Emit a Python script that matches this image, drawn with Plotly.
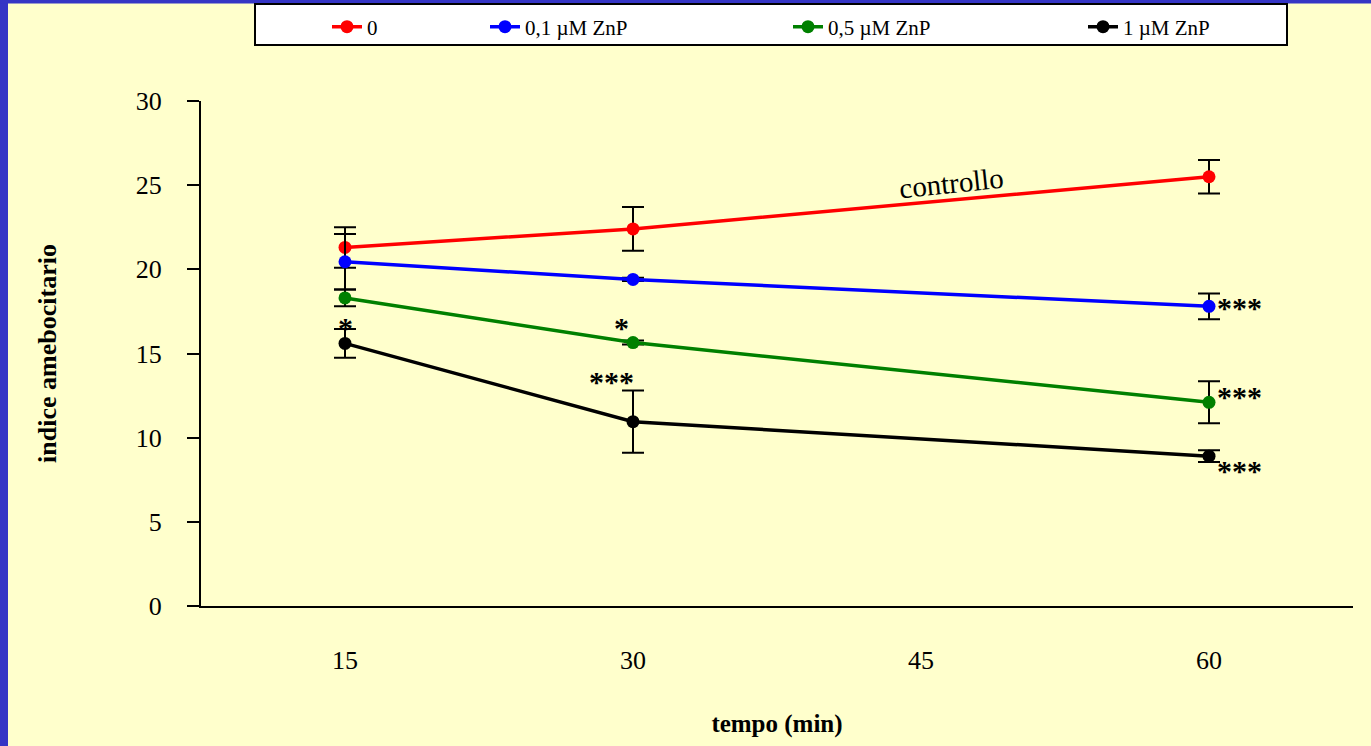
import plotly.graph_objects as go

# ---- data ----
times = [15, 30, 60]
series_names = ["0", "0,1 µM ZnP", "0,5 µM ZnP", "1 µM ZnP"]
series_colors = ["#FF0000", "#0000FF", "#008000", "#000000"]
vals_ctrl = [21.3, 22.4, 25.5]
err_ctrl = [1.2, 1.3, 1.0]
vals_01 = [20.45, 19.4, 17.8]
err_01 = [1.65, 0.1, 0.77]
vals_05 = [18.3, 15.65, 12.1]
err_05 = [0.5, 0.12, 1.25]
vals_1 = [15.6, 10.95, 8.9]
err_1 = [0.85, 1.85, 0.35]
values = [vals_ctrl, vals_01, vals_05, vals_1]
errors = [err_ctrl, err_01, err_05, err_1]

x_ticks = [15, 30, 45, 60]
y_ticks = [0, 5, 10, 15, 20, 25, 30]

# significance marks: (x, y, text)
sig_x = [15, 29.4, 28.9, 61.6, 61.6, 61.6]
sig_y = [16.55, 16.55, 13.35, 17.75, 12.45, 8.05]
sig_text = ["*", "*", "***", "***", "***", "***"]

# ---- layout helpers (pixel -> paper) ----
L, R, T, B = 201, 18, 101, 140
W, H = 1371, 746
pw, ph = W - L - R, H - T - B


def px(xp):
    return (xp - L) / pw


def py(yp):
    return (H - B - yp) / ph


SERIF = "Liberation Serif, Times New Roman, serif"

fig = go.Figure()
legend_ids = ["legend", "legend2", "legend3", "legend4"]
for name, col, v, e, lg in zip(series_names, series_colors, values, errors, legend_ids):
    fig.add_trace(go.Scatter(
        x=times, y=v, name=name, mode="lines+markers",
        line=dict(color=col, width=3.5),
        marker=dict(color=col, size=13),
        error_y=dict(type="data", array=e, visible=True, color="black",
                     thickness=2, width=11),
        legend=lg,
    ))

for sx, sy, st in zip(sig_x, sig_y, sig_text):
    fig.add_annotation(x=sx, y=sy, text="<b>" + st + "</b>", showarrow=False,
                       font=dict(family=SERIF, size=30, color="black"),
                       xanchor="center", yanchor="middle")

fig.add_annotation(x=46.6, y=25.15, text="controllo", showarrow=False,
                   textangle=-6,
                   font=dict(family=SERIF, size=29, color="black"))

# background border strips and legend box
shapes = [
    dict(type="rect", xref="paper", yref="paper", x0=-0.3, x1=px(8),
         y0=-0.4, y1=1.3, fillcolor="#3535C5", line=dict(width=0), layer="below"),
    dict(type="rect", xref="paper", yref="paper", x0=-0.3, x1=1.1,
         y0=py(3.5), y1=1.3, fillcolor="#3535C5", line=dict(width=0), layer="below"),
    dict(type="rect", xref="paper", yref="paper", x0=px(255), x1=px(1287),
         y0=py(45), y1=py(4), fillcolor="white",
         line=dict(color="black", width=2), layer="below"),
]

legend_x_px = [327, 485, 788, 1083]
legend_kw = {}
for lg, lx in zip(legend_ids, legend_x_px):
    legend_kw[lg] = dict(x=px(lx), y=py(27), xanchor="left", yanchor="middle",
                         orientation="h", bgcolor="rgba(0,0,0,0)", borderwidth=0,
                         font=dict(family=SERIF, size=21, color="black"))

fig.update_layout(
    width=W, height=H,
    margin=dict(l=L, r=R, t=T, b=B, autoexpand=False),
    paper_bgcolor="#FFFFCC", plot_bgcolor="#FFFFCC",
    shapes=shapes,
    showlegend=True,
    **legend_kw,
    xaxis=dict(
        range=[7.5, 67.5], tickmode="array", tickvals=x_ticks,
        ticktext=[str(t) for t in x_ticks],
        showgrid=False, zeroline=False, showline=True,
        linecolor="black", linewidth=2, ticks="",
        ticklabelstandoff=30, automargin=False,
        tickfont=dict(family=SERIF, size=26, color="black"),
        title=dict(text="<b>tempo (min)</b>", standoff=40,
                   font=dict(family=SERIF, size=25, color="black")),
    ),
    yaxis=dict(
        range=[0, 30], tickmode="array", tickvals=y_ticks,
        ticktext=[str(t) for t in y_ticks],
        showgrid=False, zeroline=False, showline=True,
        linecolor="black", linewidth=2, ticks="outside", ticklen=12,
        tickwidth=2, tickcolor="black", ticklabelstandoff=20, automargin=False,
        tickfont=dict(family=SERIF, size=26, color="black"),
        title=dict(text="<b>indice amebocitario</b>", standoff=72,
                   font=dict(family=SERIF, size=26, color="black")),
    ),
)

fig.write_html("out.html")
